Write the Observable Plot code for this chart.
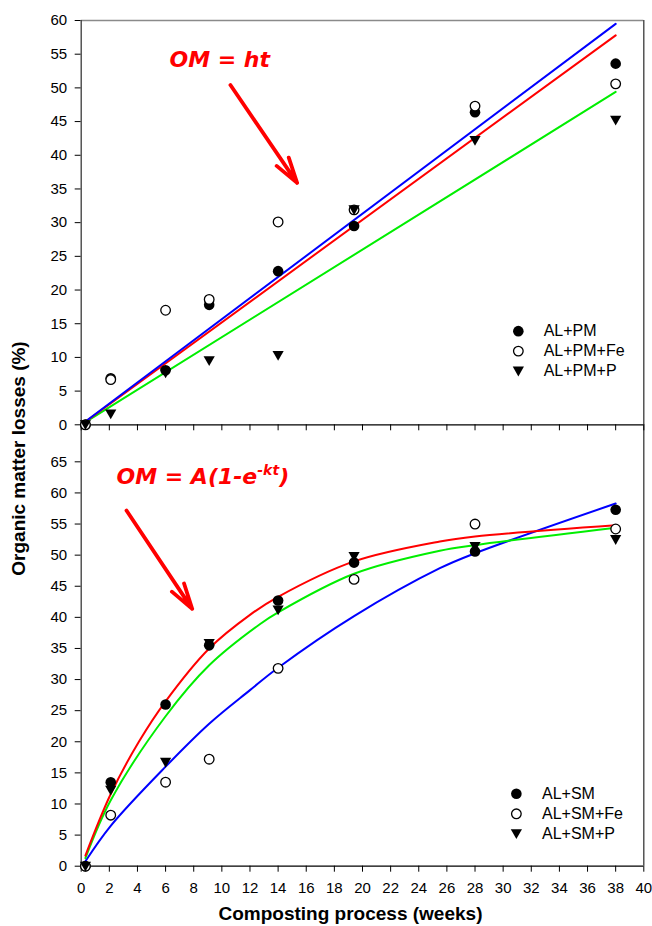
<!DOCTYPE html>
<html>
<head>
<meta charset="utf-8">
<script src="https://cdn.jsdelivr.net/npm/d3@7"></script>
<script src="https://cdn.jsdelivr.net/npm/@observablehq/plot@0.6"></script>
<style>
  body { margin: 0; background: #ffffff; }
  #wrap { position: relative; width: 652px; height: 926px; overflow: hidden; background: #ffffff;
          font-family: "Liberation Sans", Arial, sans-serif; }
  #wrap svg { position: absolute; left: 0; }
  .xlab { position: absolute; left: 150px; width: 401px; top: 904px; text-align: center;
          font: bold 19px/19px "Liberation Sans", Arial, sans-serif; color: #000; white-space: nowrap; }
  .ylab { position: absolute; left: -132px; width: 300px; top: 448.5px; text-align: center;
          font: bold 19px/19px "Liberation Sans", Arial, sans-serif; color: #000; white-space: nowrap;
          transform: rotate(-90deg); transform-origin: 50% 50%; }
</style>
</head>
<body>
<div id="wrap"></div>
<script>
// ---------------- data ----------------
const weeks = [0.3, 2.1, 6, 9.1, 14, 19.4, 28, 38];

const topSeries = ["AL+PM", "AL+PM+Fe", "AL+PM+P"];
const pm   = [0, 6.9, 8.1, 17.8, 22.8, 29.5, 46.4, 53.6];
const pmFe = [0, 6.7, 17.0, 18.6, 30.1, 31.9, 47.3, 50.6];
const pmP  = [0, 1.6, 7.7, 9.5, 10.3, 31.9, 42.2, 45.2];

const bottomSeries = ["AL+SM", "AL+SM+Fe", "AL+SM+P"];
const sm   = [0, 13.5, 26.0, 35.5, 42.7, 48.8, 50.6, 57.3];
const smFe = [0, 8.2, 13.5, 17.2, 31.8, 46.1, 55.0, 54.2];
const smP  = [0, 12.2, 16.7, 35.8, 41.2, 49.8, 51.4, 52.5];

// fitted lines OM = ht (read at both ends)
const linT    = [0.3, 38];
const linPM   = [0.45, 57.8];
const linPMFe = [0.5, 59.5];
const linPMP  = [0.4, 49.4];

// fitted curves OM = A(1-e^-kt)
const expSMT    = [0.3, 2.1, 4.1, 6, 9.1, 12, 14, 19.4, 25.5, 28, 38];
const expSM     = [1.7, 11.6, 20.0, 26.5, 35.0, 40.4, 43.3, 49.0, 52.2, 53.0, 54.8];
const expSMPT   = [0.3, 2.1, 6, 9.1, 12.7, 14, 19.4, 25.5, 28, 38];
const expSMP    = [1.3, 10.6, 24.1, 32.3, 38.9, 40.8, 47.0, 50.7, 51.6, 54.4];
const expSMFeT  = [0.3, 2.1, 6, 9.1, 12, 14, 19.4, 25.5, 28, 38];
const expSMFe   = [0.8, 6.5, 16.0, 22.9, 28.3, 31.9, 40.2, 47.9, 50.3, 58.3];

// ticks
const xTicks = [0, 2, 4, 6, 8, 10, 12, 14, 16, 18, 20, 22, 24, 26, 28, 30, 32, 34, 36, 38, 40];
const yTicksTop = [0, 5, 10, 15, 20, 25, 30, 35, 40, 45, 50, 55, 60];
const yTicksBottom = [0, 5, 10, 15, 20, 25, 30, 35, 40, 45, 50, 55, 60, 65];

const topFormula = "OM = ht";
const bottomFormula = "OM = A(1-e-kt)";
const xTitle = "Composting process (weeks)";
const yTitle = "Organic matter losses (%)";

// ---------------- helpers ----------------
const rows = (ts, vs) => ts.map((t, i) => ({t, v: vs[i]}));

const triDown = {
  draw(ctx, size) {
    const r = Math.sqrt(size / Math.PI);
    ctx.moveTo(-r, -0.8 * r);
    ctx.lineTo(r, -0.8 * r);
    ctx.lineTo(0, 0.95 * r);
    ctx.closePath();
  }
};

function pointMarks(filled, open, tri) {
  return [
    Plot.dot(filled, {x: "t", y: "v", r: 5.3, fill: "black", stroke: "none"}),
    Plot.dot(open, {x: "t", y: "v", r: 4.8, fill: "white", stroke: "black", strokeWidth: 1.3}),
    Plot.dot(tri, {x: "t", y: "v", r: 5.6, symbol: triDown, fill: "black", stroke: "none"})
  ];
}

function legendMarks(names, mx, tx, ys) {
  const L = names.map((n, i) => ({n, y: ys[i]}));
  return [
    Plot.dot([L[0]], {x: mx, y: "y", r: 5.3, fill: "black", stroke: "none"}),
    Plot.dot([L[1]], {x: mx, y: "y", r: 4.8, fill: "white", stroke: "black", strokeWidth: 1.3}),
    Plot.dot([L[2]], {x: mx, y: "y", r: 5.6, symbol: triDown, fill: "black", stroke: "none"}),
    Plot.text(L, {x: tx, y: "y", text: "n", textAnchor: "start", fontSize: 16, fill: "black",
                  fontFamily: "Liberation Sans, Arial, sans-serif"})
  ];
}

const frameColor = "#3a3a3a";
const sharedStyle = {background: "transparent", overflow: "visible", fontFamily: "Liberation Sans, Arial, sans-serif",
                     fontSize: "15px", color: "black"};

// ---------------- top panel ----------------
const topPlot = Plot.plot({
  width: 652, height: 440,
  marginTop: 20, marginBottom: 15.7, marginLeft: 80.7, marginRight: 8.7,
  style: sharedStyle,
  x: {domain: [0, 40], ticks: xTicks, tickFormat: () => "", tickSize: 6, label: null},
  y: {domain: [0, 60], ticks: yTicksTop, tickSize: 6, tickPadding: 8, label: null},
  marks: [
    Plot.ruleY([60], {stroke: "#8a8a8a", strokeWidth: 1.3}),
    Plot.ruleX([40], {stroke: frameColor, strokeWidth: 1.3}),
    Plot.ruleX([0], {stroke: frameColor, strokeWidth: 1.3}),
    Plot.ruleY([0], {stroke: "black", strokeWidth: 1.3}),
    Plot.line(rows(linT, linPMP), {x: "t", y: "v", stroke: "#00ee00", strokeWidth: 2}),
    Plot.line(rows(linT, linPM), {x: "t", y: "v", stroke: "#ff0000", strokeWidth: 2}),
    Plot.line(rows(linT, linPMFe), {x: "t", y: "v", stroke: "#0000ff", strokeWidth: 2}),
    ...pointMarks(rows(weeks, pm), rows(weeks, pmFe), rows(weeks, pmP)),
    ...legendMarks(topSeries, 31.08, 32.88, [13.9, 10.94, 7.97]),
    Plot.text([topFormula], {x: 6.28, y: 54.2, text: d => d, textAnchor: "start", fontSize: 22,
                             fontWeight: "bold", fontStyle: "italic", fill: "#ff0000",
                             fontFamily: "DejaVu Sans, sans-serif"}),
    Plot.arrow([{x1: 10.61, y1: 50.42, x2: 15.35, y2: 35.9}],
               {x1: "x1", y1: "y1", x2: "x2", y2: "y2", stroke: "#ff0000", strokeWidth: 3.8,
                headLength: 10.5, headAngle: 32, strokeLinecap: "round"})
  ]
});

// ---------------- bottom panel ----------------
const bottomPlot = Plot.plot({
  width: 652, height: 522,
  marginTop: 20, marginBottom: 60.3, marginLeft: 80.7, marginRight: 8.7,
  style: sharedStyle,
  x: {domain: [0, 40], ticks: xTicks, tickSize: 6, tickPadding: 10, label: null},
  y: {domain: [0, 71], ticks: yTicksBottom, tickSize: 6, tickPadding: 8, label: null},
  marks: [
    Plot.ruleX([40], {stroke: frameColor, strokeWidth: 1.3}),
    Plot.ruleX([0], {stroke: frameColor, strokeWidth: 1.3}),
    Plot.ruleY([0], {stroke: "black", strokeWidth: 1.3}),
    Plot.line(rows(expSMFeT, expSMFe), {x: "t", y: "v", stroke: "#0000ff", strokeWidth: 2, curve: "catmull-rom"}),
    Plot.line(rows(expSMPT, expSMP), {x: "t", y: "v", stroke: "#00ee00", strokeWidth: 2, curve: "catmull-rom"}),
    Plot.line(rows(expSMT, expSM), {x: "t", y: "v", stroke: "#ff0000", strokeWidth: 2, curve: "catmull-rom"}),
    ...pointMarks(rows(weeks, sm), rows(weeks, smFe), rows(weeks, smP)),
    ...legendMarks(bottomSeries, 30.94, 32.76, [11.64, 8.42, 5.21]),
    Plot.text([bottomFormula], {x: 2.51, y: 62.6, text: d => d, textAnchor: "start", fontSize: 22,
                                fontWeight: "bold", fontStyle: "italic", fill: "#ff0000",
                                fontFamily: "DejaVu Sans, sans-serif"}),
    Plot.arrow([{x1: 3.22, y1: 57.17, x2: 7.89, y2: 41.37}],
               {x1: "x1", y1: "y1", x2: "x2", y2: "y2", stroke: "#ff0000", strokeWidth: 3.8,
                headLength: 10.5, headAngle: 32, strokeLinecap: "round"})
  ]
});

const wrap = document.getElementById("wrap");
bottomPlot.style.top = "404px";
topPlot.style.top = "0px";
wrap.appendChild(bottomPlot);
wrap.appendChild(topPlot);

// superscript in the exponential formula
d3.select(bottomPlot).selectAll("text").each(function () {
  if (this.textContent === bottomFormula) {
    const el = d3.select(this);
    el.text(null);
    el.append("tspan").text("OM = A(1-e");
    el.append("tspan").attr("font-size", 14).attr("dy", "-9").text("-kt");
    el.append("tspan").attr("font-size", 22).attr("dy", "9").text(")");
  }
});

const xl = document.createElement("div");
xl.className = "xlab";
xl.textContent = xTitle;
wrap.appendChild(xl);

const yl = document.createElement("div");
yl.className = "ylab";
yl.textContent = yTitle;
wrap.appendChild(yl);
</script>
</body>
</html>
